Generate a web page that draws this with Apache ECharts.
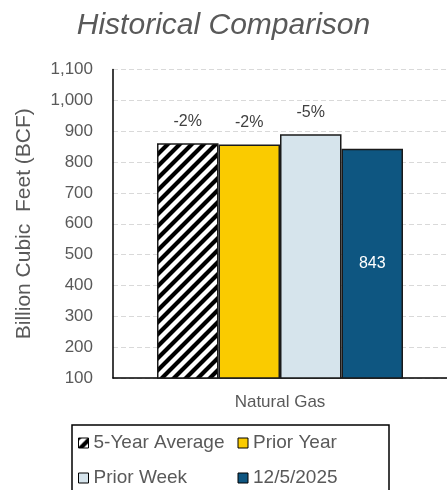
<!DOCTYPE html>
<html>
<head>
<meta charset="utf-8">
<script src="https://cdn.jsdelivr.net/npm/echarts@6/dist/echarts.min.js"></script>
<style>
  html, body { margin: 0; padding: 0; background: #fff; }
  #chart { width: 447px; height: 490px; }
</style>
</head>
<body>
<div id="chart"></div>
<script>
var categories = ['Natural Gas'];
var seriesNames = ['5-Year Average', 'Prior Year', 'Prior Week', '12/5/2025'];
var seriesValues = [861, 857, 890, 843];
var changeLabels = ['-2%', '-2%', '-5%', ''];
var yMin = 100, yMax = 1100, yStep = 100;

// diagonal black/white stripes for the 5-year average bar
function stripes() {
	var s = 12;
	var c = document.createElement('canvas');
	c.width = s; c.height = s;
	var g = c.getContext('2d');
	g.fillStyle = '#fff';
	g.fillRect(0, 0, s, s);
	g.strokeStyle = '#000';
	g.lineWidth = 4.2;
	g.beginPath();
	g.moveTo(-s, s); g.lineTo(s, -s);
	g.moveTo(0, s); g.lineTo(s, 0);
	g.moveTo(0, 2 * s); g.lineTo(2 * s, 0);
	g.stroke();
	return c;
}

var colors = [
	{ image: stripes(), repeat: 'repeat' },
	'#FACB00',
	'#D6E4EC',
	'#0E5681'
];

var series = [];
for (var i = 0; i < seriesNames.length; i++) {
	var last = i == seriesNames.length - 1;
	series.push({
		name: seriesNames[i],
		type: 'bar',
		barWidth: 61.5,
		barGap: '0%',
		data: [seriesValues[i]],
		itemStyle: {
			color: colors[i],
			borderColor: '#1a1a1a',
			borderWidth: 1.5
		},
		label: {
			show: true,
			position: last ? 'inside' : 'top',
			distance: 14,
			fontFamily: 'Liberation Sans',
			fontSize: 16,
			color: last ? '#ffffff' : '#404040',
			formatter: (function(idx, isLast) {
				return function(p) { return isLast ? String(p.value) : changeLabels[idx]; };
			})(i, last)
		}
	});
}

var option = {
	animation: false,
	title: {
		text: 'Historical Comparison',
		left: 'center',
		top: 6,
		textStyle: {
			fontFamily: 'Liberation Sans',
			fontStyle: 'italic',
			fontWeight: 'normal',
			fontSize: 30,
			color: '#595959'
		}
	},
	grid: {
		left: 113,
		right: 0,
		top: 69.5,
		bottom: 112
	},
	legend: {
		data: seriesNames,
		left: 78,
		top: 428,
		width: 330,
		padding: 0,
		icon: 'rect',
		itemWidth: 10,
		itemHeight: 10,
		itemGap: 5,
		itemStyle: { borderColor: '#000', borderWidth: 1 },
		textStyle: {
			fontFamily: 'Liberation Sans',
			fontSize: 19,
			color: '#595959',
			width: 139,
			lineHeight: 30
		}
	},
	graphic: [{
		type: 'rect',
		shape: { x: 72, y: 425, width: 317, height: 80 },
		style: { fill: 'none', stroke: '#000', lineWidth: 1.5 },
		silent: true
	}],
	xAxis: {
		type: 'category',
		data: categories,
		axisLine: { lineStyle: { color: '#000', width: 1.5 } },
		axisTick: { show: false },
		axisLabel: {
			fontFamily: 'Liberation Sans',
			fontSize: 17,
			color: '#595959',
			margin: 16
		}
	},
	yAxis: {
		type: 'value',
		min: yMin,
		max: yMax,
		interval: yStep,
		name: 'Billion Cubic  Feet (BCF)',
		nameLocation: 'middle',
		nameGap: 78,
		nameTextStyle: {
			fontFamily: 'Liberation Sans',
			fontSize: 21,
			color: '#595959'
		},
		axisLine: { show: true, lineStyle: { color: '#000', width: 1.5 } },
		axisTick: { show: false },
		axisLabel: {
			fontFamily: 'Liberation Sans',
			fontSize: 17,
			color: '#595959',
			margin: 20,
			formatter: function(v) { return v.toLocaleString('en-US'); }
		},
		splitLine: { lineStyle: { color: '#d9d9d9', type: [5, 3] } }
	},
	series: series
};

var chart = echarts.init(document.getElementById('chart'));
chart.setOption(option);
</script>
</body>
</html>
